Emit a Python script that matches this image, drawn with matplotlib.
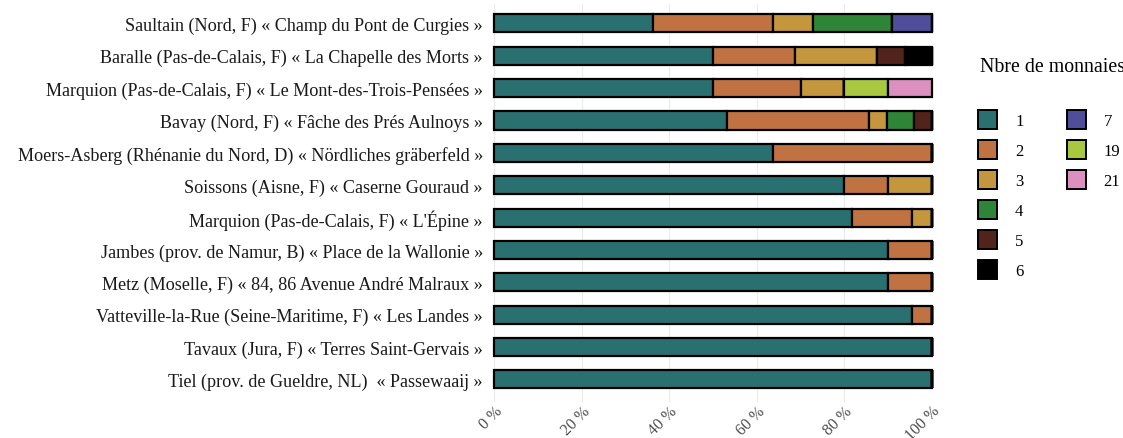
import numpy as np
import matplotlib.pyplot as plt
from matplotlib.patches import Patch

# sites, from top to bottom of the chart
sites = [
    "Saultain (Nord, F) « Champ du Pont de Curgies »",
    "Baralle (Pas-de-Calais, F) « La Chapelle des Morts »",
    "Marquion (Pas-de-Calais, F) « Le Mont-des-Trois-Pensées »",
    "Bavay (Nord, F) « Fâche des Prés Aulnoys »",
    "Moers-Asberg (Rhénanie du Nord, D) « Nördliches gräberfeld »",
    "Soissons (Aisne, F) « Caserne Gouraud »",
    "Marquion (Pas-de-Calais, F) « L'Épine »",
    "Jambes (prov. de Namur, B) « Place de la Wallonie »",
    "Metz (Moselle, F) « 84, 86 Avenue André Malraux »",
    "Vatteville-la-Rue (Seine-Maritime, F) « Les Landes »",
    "Tavaux (Jura, F) « Terres Saint-Gervais »",
    "Tiel (prov. de Gueldre, NL)  « Passewaaij »",
]

groups = ["1", "2", "3", "4", "5", "6", "7", "19", "21"]
colors = ["#2b7070", "#c07242", "#c4963d", "#2e8538", "#52231b",
          "#000000", "#504e9a", "#a9c840", "#dc90c0"]

# share (%) of graves per number of coins, one list per group, same order as sites
share_1  = [36.4, 50.0, 50.0, 53.1, 63.6, 80.0, 81.8, 90.0, 90.0, 95.5, 100.0, 100.0]
share_2  = [27.3, 18.75, 20.0, 32.6, 36.4, 10.0, 13.6, 10.0, 10.0, 4.5, 0, 0]
share_3  = [9.1, 18.75, 10.0, 4.1, 0, 10.0, 4.6, 0, 0, 0, 0, 0]
share_4  = [18.1, 0, 0, 6.1, 0, 0, 0, 0, 0, 0, 0, 0]
share_5  = [0, 6.25, 0, 4.1, 0, 0, 0, 0, 0, 0, 0, 0]
share_6  = [0, 6.25, 0, 0, 0, 0, 0, 0, 0, 0, 0, 0]
share_7  = [9.1, 0, 0, 0, 0, 0, 0, 0, 0, 0, 0, 0]
share_19 = [0, 0, 10.0, 0, 0, 0, 0, 0, 0, 0, 0, 0]
share_21 = [0, 0, 10.0, 0, 0, 0, 0, 0, 0, 0, 0, 0]
shares = [share_1, share_2, share_3, share_4, share_5, share_6,
          share_7, share_19, share_21]

xticks = [0, 20, 40, 60, 80, 100]

plt.rcParams['font.family'] = ['Liberation Serif', 'DejaVu Serif']

fig = plt.figure(figsize=(11.23, 4.39), dpi=100)
ax = fig.add_axes([494 / 1123, 36 / 439, 438 / 1123, 398 / 439])

y = np.arange(len(sites))[::-1]
left = np.zeros(len(sites))
for vals, c in zip(shares, colors):
    vals = np.array(vals) / 100
    ax.barh(y, vals, left=left, height=0.56, color=c, edgecolor="black",
            linewidth=1.6, clip_on=False, zorder=3)
    left += vals

ax.set_xlim(0, 1)
ax.set_ylim(-0.7, 11.6)
ax.set_xticks([t / 100 for t in xticks])
ax.set_xticklabels([f"{t} %" for t in xticks], rotation=45, ha="right",
                   rotation_mode="anchor", fontsize=11.5, color="#4d4d4d")
ax.set_yticks(y)
ax.set_yticklabels(sites, fontsize=13.1, color="#1a1a1a")
ax.tick_params(axis="y", length=0, pad=8)
ax.tick_params(axis="x", length=0, pad=0.5)
ax.grid(True, color="#ebebeb", linewidth=0.8, zorder=0)
for s in ax.spines.values():
    s.set_visible(False)

# legend, filled column by column: 6 entries then 3
handles = [Patch(facecolor=c, edgecolor="black", linewidth=1.4) for c in colors]
labels = list(groups)
for _ in range(3):
    handles.append(Patch(facecolor="none", edgecolor="none"))
    labels.append("")
fig.text(980 / 1123, 1 - 67 / 439, "Nbre de monnaies", fontsize=14.3,
         va="center", ha="left")
fig.legend(handles, labels, ncol=2, loc="upper left",
           bbox_to_anchor=(978 / 1123, 1 - 111 / 439), frameon=False,
           fontsize=12, handlelength=1.14, handleheight=1.38,
           labelspacing=0.66, handletextpad=1.08, columnspacing=2.6,
           borderpad=0, borderaxespad=0)

fig.savefig("out.png", dpi=100)
